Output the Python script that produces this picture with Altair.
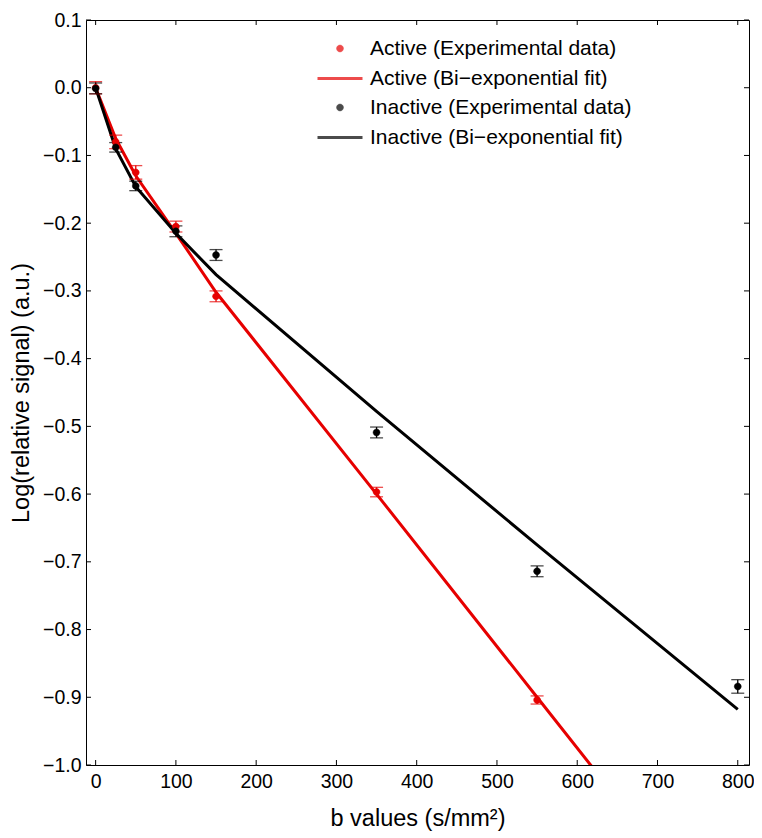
import altair as alt
import pandas as pd

# ---- data ----
b_values = [0, 25, 50, 100, 150, 350, 550, 800]
active_b = [0, 25, 50, 100, 150, 350, 550]
active_exp = [0.0, -0.080, -0.125, -0.205, -0.308, -0.597, -0.904]
active_err = [0.009, 0.010, 0.010, 0.008, 0.008, 0.007, 0.006]
inactive_exp = [-0.001, -0.088, -0.145, -0.212, -0.247, -0.509, -0.714, -0.884]
inactive_err = [0.008, 0.007, 0.007, 0.008, 0.008, 0.008, 0.008, 0.010]
active_fit = [0.0, -0.075, -0.130, -0.215, -0.302, -0.600, -0.900, -1.275]
inactive_fit = [0.0, -0.090, -0.146, -0.215, -0.276, -0.478, -0.675, -0.918]

series_names = [
    "Active (Experimental data)",
    "Active (Bi\u2212exponential fit)",
    "Inactive (Experimental data)",
    "Inactive (Bi\u2212exponential fit)",
]
series_colors = ["#e60000", "#e60000", "#000000", "#000000"]
DOT = "M-0.23,0A0.23,0.23,0,1,0,0.23,0A0.23,0.23,0,1,0,-0.23,0Z"
LINE = "M-1.5,0H1.5"
series_shapes = [DOT, LINE, DOT, LINE]
series_widths = [0.5, 3, 0.5, 3]
x_ticks = [0, 100, 200, 300, 400, 500, 600, 700, 800]
y_ticks = [-1.0, -0.9, -0.8, -0.7, -0.6, -0.5, -0.4, -0.3, -0.2, -0.1, 0.0, 0.1]

W, H = 663, 745
FONT = "Liberation Sans"
color_of = dict(zip(series_names, series_colors))

# ---- tables ----
exp_rows = []
for b, v, e in zip(active_b, active_exp, active_err):
    exp_rows.append({"b": b, "v": v, "lo": v - e, "hi": v + e, "series": series_names[0]})
for b, v, e in zip(b_values, inactive_exp, inactive_err):
    exp_rows.append({"b": b, "v": v, "lo": v - e, "hi": v + e, "series": series_names[2]})
exp_df = pd.DataFrame(exp_rows)
exp_df["col"] = exp_df["series"].map(color_of)

fit_rows = []
for b, v in zip(b_values, active_fit):
    fit_rows.append({"b": b, "v": v, "series": series_names[1]})
for b, v in zip(b_values, inactive_fit):
    fit_rows.append({"b": b, "v": v, "series": series_names[3]})
fit_df = pd.DataFrame(fit_rows)
fit_df["col"] = fit_df["series"].map(color_of)

xt_df = pd.DataFrame({"t": x_ticks})
yt_df = pd.DataFrame({"t": y_ticks})

xscale = alt.Scale(domain=[-12, 814], nice=False, zero=False)
yscale = alt.Scale(domain=[-1.0, 0.1], nice=False, zero=False)

x_axis = alt.Axis(
    values=x_ticks, format="d", ticks=False, domain=False, grid=False,
    labelFont=FONT, labelFontSize=19.5, labelColor="black", labelPadding=7,
    title="b values (s/mm\u00b2)", titleFont=FONT, titleFontSize=23.5,
    titleFontWeight="normal", titleColor="black", titlePadding=16,
)
y_axis = alt.Axis(
    values=y_ticks, format=".1f", ticks=False, domain=False, grid=False,
    labelFont=FONT, labelFontSize=19.5, labelColor="black", labelPadding=5,
    title="Log(relative signal) (a.u.)", titleFont=FONT, titleFontSize=23.5,
    titleFontWeight="normal", titleColor="black", titlePadding=9,
)

X = alt.X("b:Q", scale=xscale, axis=x_axis)
Y = alt.Y("v:Q", scale=yscale, axis=y_axis)

# fitted curves
lines = alt.Chart(fit_df).mark_line(strokeWidth=3, clip=True).encode(
    x=X, y=Y, color=alt.Color("col:N", scale=None), detail="series:N", order="b:Q"
)

# error bars
bars = alt.Chart(exp_df).mark_rule(strokeWidth=1.3).encode(
    x=alt.X("b:Q", scale=xscale), y=alt.Y("lo:Q", scale=yscale), y2="hi:Q",
    color=alt.Color("col:N", scale=None),
)
caps_lo = alt.Chart(exp_df).mark_tick(orient="horizontal", size=13, thickness=1.3).encode(
    x=alt.X("b:Q", scale=xscale), y=alt.Y("lo:Q", scale=yscale),
    color=alt.Color("col:N", scale=None),
)
caps_hi = alt.Chart(exp_df).mark_tick(orient="horizontal", size=13, thickness=1.3).encode(
    x=alt.X("b:Q", scale=xscale), y=alt.Y("hi:Q", scale=yscale),
    color=alt.Color("col:N", scale=None),
)

legend = alt.Legend(
    title=None, orient="none", legendX=237.5, legendY=13,
    labelFont=FONT, labelFontSize=21, labelColor="black", labelOffset=13.5,
    labelLimit=500, rowPadding=3, symbolOpacity=1, symbolSize=900,
)

def oscale(rng):
    return alt.Scale(type="ordinal", domain=series_names, range=rng)

points = alt.Chart(exp_df).mark_point(filled=False, opacity=1, size=900).encode(
    x=X, y=Y,
    color=alt.Color("series:N", scale=alt.Scale(domain=series_names, range=series_colors),
                    legend=legend),
    fill=alt.Fill("series:N", scale=alt.Scale(domain=series_names, range=series_colors),
                  legend=legend),
    shape=alt.Shape("series:N", scale=alt.Scale(domain=series_names, range=series_shapes),
                    legend=legend),
    strokeWidth=alt.StrokeWidth("series:N", scale=oscale(series_widths), legend=legend),
)

# inside ticks (Matlab style box)
TL = 5
tb = alt.Chart(xt_df).mark_rule(color="black", strokeWidth=1).encode(
    x=alt.X("t:Q", scale=xscale), y=alt.value(H), y2=alt.value(H - TL))
tt = alt.Chart(xt_df).mark_rule(color="black", strokeWidth=1).encode(
    x=alt.X("t:Q", scale=xscale), y=alt.value(0), y2=alt.value(TL))
tl = alt.Chart(yt_df).mark_rule(color="black", strokeWidth=1).encode(
    y=alt.Y("t:Q", scale=yscale), x=alt.value(0), x2=alt.value(TL))
tr = alt.Chart(yt_df).mark_rule(color="black", strokeWidth=1).encode(
    y=alt.Y("t:Q", scale=yscale), x=alt.value(W), x2=alt.value(W - TL))

chart = alt.layer(tb, tt, tl, tr, lines, bars, caps_lo, caps_hi, points).properties(
    width=W, height=H,
    autosize=alt.AutoSizeParams(type="none"),
    padding={"left": 78, "top": 12, "right": 5, "bottom": 67},
    background="white",
).configure_view(stroke="black", strokeWidth=1)

chart.save("out.html", embed_options={"renderer": "svg", "actions": False})
